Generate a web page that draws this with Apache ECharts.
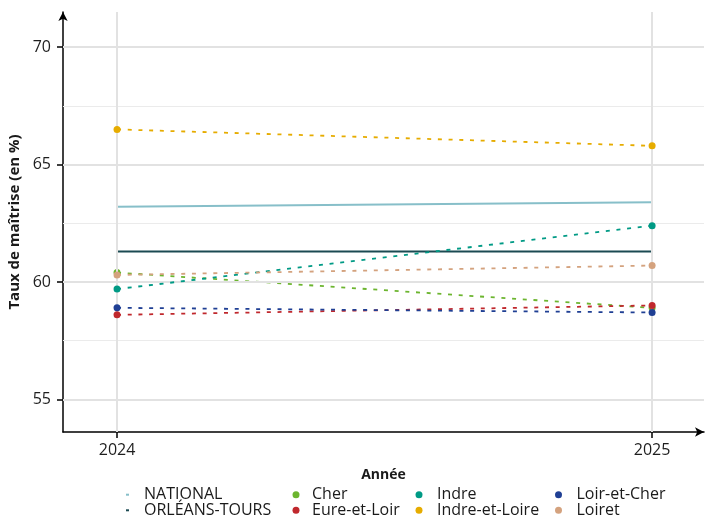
<!DOCTYPE html>
<html>
<head>
<meta charset="utf-8">
<script src="https://cdn.jsdelivr.net/npm/echarts@6/dist/echarts.min.js"></script>
<style>html,body{margin:0;padding:0;background:#fff}#c{width:707px;height:515px}</style>
</head>
<body>
<div id="c"></div>
<script>
const years = [2024, 2025];
const seriesNames = ['NATIONAL', 'ORLÉANS-TOURS', 'Cher', 'Eure-et-Loir', 'Indre', 'Indre-et-Loire', 'Loir-et-Cher', 'Loiret'];
const national = [63.2, 63.4];
const orleansTours = [61.3, 61.3];
const cher = [60.4, 58.9];
const eureEtLoir = [58.6, 59.0];
const indre = [59.7, 62.4];
const indreEtLoire = [66.5, 65.8];
const loirEtCher = [58.9, 58.7];
const loiret = [60.3, 60.7];
const yMajorTicks = [55, 60, 65, 70];
const yMinorTicks = [57.5, 62.5, 67.5];
const xTicks = [2024, 2025];

const colors = {
  'NATIONAL': '#87bfc9',
  'ORLÉANS-TOURS': '#1b4a52',
  'Cher': '#6cb52f',
  'Eure-et-Loir': '#c0282d',
  'Indre': '#009a85',
  'Indre-et-Loire': '#e6ac00',
  'Loir-et-Cher': '#1f3f94',
  'Loiret': '#d4a27e'
};
const values = {
  'NATIONAL': national, 'ORLÉANS-TOURS': orleansTours, 'Cher': cher, 'Eure-et-Loir': eureEtLoir,
  'Indre': indre, 'Indre-et-Loire': indreEtLoire, 'Loir-et-Cher': loirEtCher, 'Loiret': loiret
};
const FONT = 'Open Sans';

const gridSeries = {
  type: 'line', name: '_grid', data: [], z: 1, silent: true,
  markLine: {
    silent: true, symbol: ['none', 'none'], label: { show: false }, animation: false,
    data: [
      ...yMajorTicks.map(v => ({ yAxis: v, lineStyle: { color: '#e2e2e2', width: 2, type: 'solid' } })),
      ...yMinorTicks.map(v => ({ yAxis: v, lineStyle: { color: '#ebebeb', width: 1.2, type: 'solid' } })),
      ...xTicks.map(v => ({ xAxis: v, lineStyle: { color: '#e2e2e2', width: 2, type: 'solid' } }))
    ]
  }
};

const dataSeries = seriesNames.map((name, i) => {
  const isRef = i < 2;
  return {
    type: 'line', name: name, z: 2 + i,
    data: years.map((y, j) => [y, values[name][j]]),
    color: colors[name],
    showSymbol: !isRef,
    symbol: isRef ? 'none' : 'circle',
    symbolSize: 7,
    itemStyle: { color: colors[name] },
    lineStyle: isRef ? { width: 2, type: 'solid', color: colors[name] }
                     : { width: 1.8, type: [4, 6.7], color: colors[name] }
  };
});

// legend layout: 4 columns x 2 rows
const legendCols = [
  { names: ['NATIONAL', 'ORLÉANS-TOURS'], left: 126, icon: 'rect', w: 3, h: 2, pad: 10 },
  { names: ['Cher', 'Eure-et-Loir'], left: 292.5, icon: 'circle', w: 7, h: 7, pad: 7.5 },
  { names: ['Indre', 'Indre-et-Loire'], left: 415.5, icon: 'circle', w: 7, h: 7, pad: 9.5 },
  { names: ['Loir-et-Cher', 'Loiret'], left: 555, icon: 'circle', w: 7, h: 7, pad: 9.5 }
];
const legendRowTops = [486.7, 502.3];
const legends = [];
legendCols.forEach(c => {
  c.names.forEach((n, r) => {
    legends.push({
      orient: 'horizontal', left: c.left, top: legendRowTops[r], padding: 0,
      itemWidth: c.w, itemHeight: c.h, icon: c.icon, selectedMode: false,
      data: [n],
      textStyle: { fontFamily: FONT, fontSize: 16, color: '#1a1a1a', lineHeight: 16, padding: [0, 0, 0, c.pad] }
    });
  });
});

const option = {
  animation: false,
  backgroundColor: '#ffffff',
  textStyle: { fontFamily: FONT },
  grid: { left: 63, right: 3, top: 12, bottom: 83, containLabel: false, outerBoundsMode: 'none' },
  xAxis: {
    type: 'value', min: 2023.899, max: 2025.097,
    name: 'Année', nameLocation: 'middle', nameGap: 36,
    nameTextStyle: { fontFamily: FONT, fontSize: 14, fontWeight: 'bold', color: '#1a1a1a' },
    axisLine: { show: true, symbol: ['none', 'arrow'], symbolSize: [7, 9], lineStyle: { color: '#000', width: 1.5 } },
    axisTick: { show: true, length: 6, customValues: xTicks, lineStyle: { color: '#000', width: 1.5 } },
    axisLabel: { customValues: xTicks, formatter: v => String(v), color: '#1e1e1e', fontSize: 16, fontFamily: FONT, margin: 10 },
    splitLine: { show: false }
  },
  yAxis: {
    type: 'value', min: 53.61, max: 71.5,
    name: 'Taux de maîtrise (en %)', nameLocation: 'middle', nameGap: 40,
    nameTextStyle: { fontFamily: FONT, fontSize: 15, fontWeight: 'bold', color: '#1a1a1a' },
    axisLine: { show: true, symbol: ['none', 'arrow'], symbolSize: [7, 9], lineStyle: { color: '#000', width: 1.5 } },
    axisTick: { show: true, length: 6, customValues: yMajorTicks, lineStyle: { color: '#000', width: 1.5 } },
    axisLabel: { customValues: yMajorTicks, color: '#1e1e1e', fontSize: 16, fontFamily: FONT, margin: 12 },
    splitLine: { show: false }
  },
  legend: legends,
  series: [gridSeries, ...dataSeries]
};

const chart = echarts.init(document.getElementById('c'), null, { renderer: 'canvas' });
chart.setOption(option);
</script>
</body>
</html>
